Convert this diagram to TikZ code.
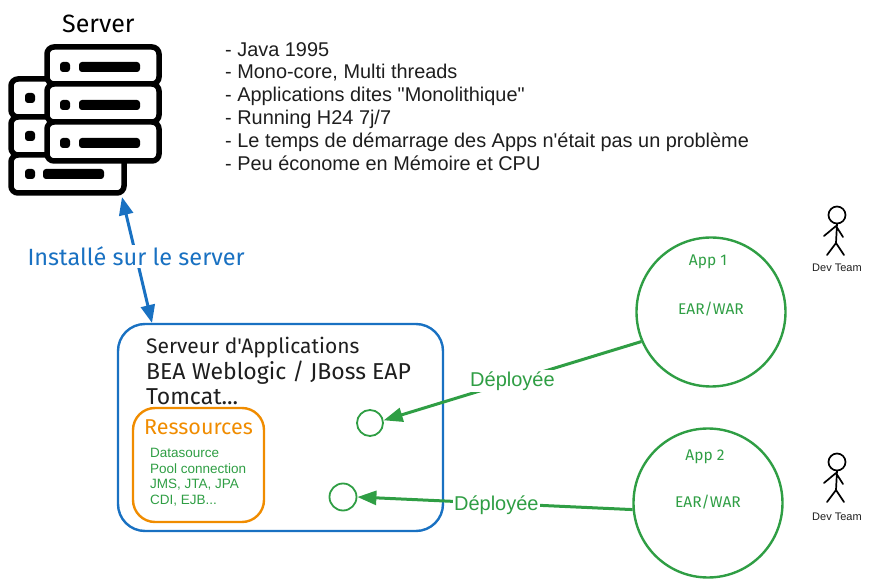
\documentclass[tikz,border=0pt]{standalone}
\usepackage{fontspec}
\setmainfont{Liberation Sans}
\newfontfamily\listfont{Liberation Sans}
\newfontfamily\handfont{Fira Sans}
\usetikzlibrary{arrows.meta}
\usetikzlibrary{positioning}

\definecolor{drawblue}{HTML}{1971C2}
\definecolor{drawgreen}{HTML}{2F9E44}
\definecolor{draworange}{HTML}{F08C00}
\definecolor{drawblack}{HTML}{1E1E1E}

\tikzset{
    rack/.style={draw=black, fill=white, line width=5.5pt, rounded corners=7pt},
    rackmark/.style={fill=black, rounded corners=3pt},
    hand/.style={inner sep=0pt, anchor=base west},
    bluearrow/.style={drawblue, line width=3pt, {Triangle[length=18pt,width=14pt]}-{Triangle[length=18pt,width=14pt]}},
    greenarrow/.style={drawgreen, line width=3pt, -{Triangle[length=19pt,width=14pt]}},
    target/.style={circle, draw=drawgreen, line width=1.8pt, inner sep=0pt},
    appcircle/.style={circle, draw=drawgreen, line width=2.4pt, inner sep=0pt, minimum size=149pt},
    arrowlabel/.style={fill=white, text=drawgreen, inner sep=1.5pt, font=\fontsize{20}{22}\selectfont},
    applabel/.style={hand, anchor=center, text=drawgreen, font=\handfont\fontsize{15.5}{17}\selectfont},
    devteam/.pic={
        \draw[line width=1.7pt, line cap=round, line join=round] (0,0) circle (8.5)
            (0,9) -- (-1,28) (-13,21) -- (-1,11) -- (6,22) (-10,40) -- (-1,28) -- (7,40);
    }
}

\begin{document}
\begin{tikzpicture}[x=1pt, y=-1pt]
    \useasboundingbox (0,0) rectangle (871,585);

    % serveur
    \draw[rack] (11,79) rectangle (124,117);
    \draw[rack] (11,117) rectangle (124,155);
    \draw[rack] (11,155) rectangle (124,193);
    \draw[rack] (47,47) rectangle (159,84);
    \draw[rack] (47,84) rectangle (159,122);
    \draw[rack] (47,122) rectangle (159,161);
    \fill[rackmark] (25,93) rectangle (35,103);
    \fill[rackmark] (25,131) rectangle (35,141);
    \fill[rackmark] (25,169) rectangle (35,179);
    \fill[rackmark] (43,169) rectangle (104,179);
    \fill[rackmark] (60,62) rectangle (70,72);
    \fill[rackmark] (79,62) rectangle (140,72);
    \fill[rackmark] (60,100) rectangle (70,110);
    \fill[rackmark] (79,100) rectangle (140,110);
    \fill[rackmark] (60,138) rectangle (70,148);
    \fill[rackmark] (79,138) rectangle (140,148);
    \coordinate (serverfoot) at (122,197);
    \node[hand, font=\handfont\fontsize{25}{27}\selectfont] (servertitle) at (62,33) {Server};

    % liste
    \node[anchor=north west, align=left, inner sep=0pt, text=drawblack, font=\listfont\fontsize{19.9}{22.8}\selectfont] (features) at (225,42) {- Java 1995\\
        - Mono-core, Multi threads\\
        - Applications dites "Monolithique"\\
        - Running H24 7j/7\\
        - Le temps de d\'emarrage des Apps n'\'etait pas un probl\`eme\\
        - Peu \'econome en M\'emoire et CPU};

    % serveur d'applications
    \draw[drawblue, line width=2.4pt, rounded corners=27pt] (118,324) rectangle (443,531);
    \coordinate (appservertop) at (152,323);
    \node[hand, text=drawblack, font=\handfont\fontsize{21}{25.5}\selectfont, align=left, anchor=north west] (appservertitle) at (146,337) {Serveur d'Applications\\{\fontsize{23}{25.5}\selectfont BEA Weblogic / JBoss EAP}\\{\fontsize{23}{25.5}\selectfont Tomcat...}};

    % ressources
    \draw[draworange, line width=2.4pt, rounded corners=22pt] (133,408) rectangle (264,522);
    \node[hand, text=draworange, font=\handfont\fontsize{21.5}{24}\selectfont] (ressources) at (144,435) {Ressources};
    \node[anchor=north west, align=left, inner sep=0pt, text=drawgreen, font=\fontsize{13.5}{15.7}\selectfont] (resslist) at (150,448) {Datasource\\Pool connection\\JMS, JTA, JPA\\CDI, EJB...};

    % applications
    \node[target, minimum size=26pt] (slot1) at (370,423) {};
    \node[target, minimum size=27pt] (slot2) at (343,497) {};
    \node[appcircle] (app1) at (711,312) {};
    \node[appcircle] (app2) at (708,503) {};
    \node[applabel] (app1name) at (708,262) {App 1};
    \node[applabel] (app1kind) at (711,309) {EAR/WAR};
    \node[applabel] (app2name) at (705,457) {App 2};
    \node[applabel] (app2kind) at (708,502) {EAR/WAR};

    % fleches
    \draw[bluearrow] (serverfoot) -- node[pos=0.47, fill=white, inner sep=2pt, text=drawblue, font=\handfont\fontsize{23.5}{25}\selectfont] (installed) {Install\'e sur le server} (appservertop);
    \draw[greenarrow] (app1.203) -- node[pos=0.5, arrowlabel] (deploy1) {D\'eploy\'ee} (slot1.11);
    \draw[greenarrow] (app2.185) -- node[pos=0.495, yshift=-2pt, arrowlabel] (deploy2) {D\'eploy\'ee} (slot2.0);

    % dev team
    \pic at (837,215) {devteam};
    \pic at (837,462) {devteam};
    \node[inner sep=0pt, font=\fontsize{11}{13}\selectfont, text=drawblack] (team1) at (837,268) {Dev Team};
    \node[inner sep=0pt, font=\fontsize{11}{13}\selectfont, text=drawblack] (team2) at (837,517) {Dev Team};
\end{tikzpicture}
\end{document}
